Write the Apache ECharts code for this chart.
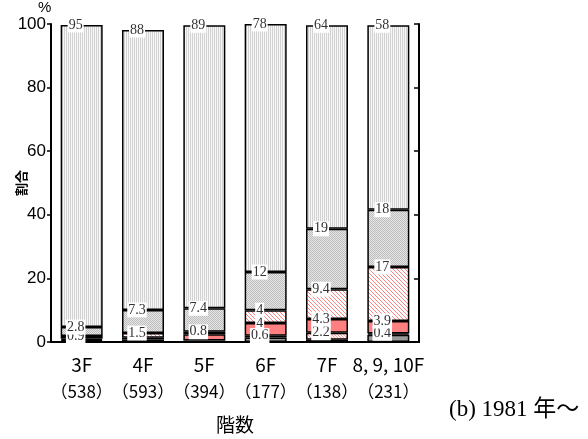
<!DOCTYPE html>
<html>
<head>
<meta charset="UTF-8">
<title>階数別 割合</title>
<script src="https://cdn.jsdelivr.net/npm/echarts@6/dist/echarts.min.js"></script>
<style>
html, body { margin: 0; padding: 0; background: #fff; }
#main { width: 588px; height: 439px; }
</style>
</head>
<body>
<div id="main"></div>
<script>
// 階数と棟数
var floors = ['3F', '4F', '5F', '6F', '7F', '8, 9, 10F'];
var counts = [538, 593, 394, 177, 138, 231];

// 積み上げ（下から順）
var s1 = [0.3, 0, 0, 1.4, 0, 2.3];
var s2 = [0.3, 0.8, 0.5, 0.6, 0.7, 0.4];
var s3 = [0, 0, 0, 0, 2.2, 0];
var s4 = [0.4, 0.5, 1.9, 4, 4.3, 3.9];
var s5 = [0.9, 1.5, 0.8, 4, 9.4, 17];
var s6 = [2.8, 7.3, 7.4, 12, 19, 18];
var s7 = [95, 88, 89, 78, 64, 58];

// 図中に書かれている数値（'' は表示なし）
var l1 = ['', '', '', '', '', ''];
var l2 = ['', '', '', '0.6', '', '0.4'];
var l3 = ['', '', '', '', '2.2', ''];
var l4 = ['', '', '', '4', '4.3', '3.9'];
var l5 = ['0.9', '1.5', '0.8', '4', '9.4', '17'];
var l6 = ['2.8', '7.3', '7.4', '12', '19', '18'];
var l7 = ['95', '88', '89', '78', '64', '58'];

function pattern(w, h, bg, fg, pts) {
	var c = document.createElement('canvas');
	c.width = w; c.height = h;
	var g = c.getContext('2d');
	g.fillStyle = bg;
	g.fillRect(0, 0, w, h);
	g.fillStyle = fg;
	pts.forEach(function(p) { g.fillRect(p[0], p[1], 1, 1); });
	return { image: c, repeat: 'repeat' };
}

var fills = [
	'#9a9a9a',
	'#000000',
	pattern(3, 3, '#fff4f4', '#ff9c9c', [[0, 0], [1, 1], [2, 2]]),
	'#ff8080',
	pattern(4, 4, '#ffffff', '#ff8080', [[0, 0], [1, 1], [2, 2], [3, 3]]),
	pattern(2, 2, '#e6e6e6', '#bdbdbd', [[0, 0], [1, 1]]),
	pattern(2, 1, '#f7f7f7', '#d2d2d2', [[0, 0]])
];
var values = [s1, s2, s3, s4, s5, s6, s7];
var labels = [l1, l2, l3, l4, l5, l6, l7];

var series = values.map(function(arr, k) {
	return {
		type: 'bar',
		stack: 'total',
		barWidth: 42,
		xAxisIndex: 0,
		yAxisIndex: 0,
		itemStyle: { color: fills[k], borderColor: '#000', borderWidth: 1.5 },
		label: {
			position: [15, 0],
			align: 'center',
			verticalAlign: 'middle',
			fontFamily: 'Liberation Serif',
			fontSize: 14,
			color: '#333',
			backgroundColor: '#fff',
			padding: [1, 1, 0, 1],
			formatter: function(p) { return labels[k][p.dataIndex]; }
		},
		data: arr.map(function(v, i) {
			return { value: v === 0 ? null : v, label: { show: labels[k][i] !== '' } };
		})
	};
});

var chart = echarts.init(document.getElementById('main'));
chart.setOption({
	animation: false,
	grid: { left: 51, right: 169, top: 24, bottom: 97, outerBoundsMode: 'none' },
	xAxis: [{
		type: 'category',
		data: floors,
		position: 'bottom',
		axisLine: { lineStyle: { color: '#000', width: 2 } },
		axisTick: { inside: true, length: 5, lineStyle: { color: '#000', width: 1.5 } },
		axisLabel: {
			margin: 10,
			interval: 0,
			formatter: function(v, i) { return '{a|' + v + '}\n{b|（' + counts[i] + '）}'; },
			rich: {
				a: { fontFamily: 'Noto Sans CJK JP', fontSize: 19, lineHeight: 26, color: '#000' },
				b: { fontFamily: 'Noto Sans CJK JP', fontSize: 17, lineHeight: 28, color: '#000' }
			}
		},
		name: '階数',
		nameLocation: 'middle',
		nameGap: 73,
		nameTextStyle: { fontFamily: 'Noto Sans CJK JP', fontSize: 19, color: '#000' }
	}, {
		type: 'category',
		data: floors,
		position: 'top',
		axisLine: { lineStyle: { color: '#000', width: 2 } },
		axisTick: { inside: true, length: 5, lineStyle: { color: '#000', width: 1.5 } },
		axisLabel: { show: false }
	}],
	yAxis: [{
		type: 'value',
		min: 0,
		max: 100,
		interval: 20,
		position: 'left',
		axisLine: { show: true, lineStyle: { color: '#000', width: 2 } },
		axisTick: { show: true, length: 4, lineStyle: { color: '#000', width: 1.5 } },
		splitLine: { show: false },
		axisLabel: { margin: 5, fontFamily: 'Liberation Sans', fontSize: 17, color: '#000' },
		name: '割合',
		nameLocation: 'middle',
		nameRotate: 90,
		nameGap: 23,
		nameMoveOverlap: false,
		nameTextStyle: { fontFamily: 'Noto Sans CJK JP', fontSize: 13, fontWeight: 'bold', color: '#000' }
	}, {
		type: 'value',
		min: 0,
		max: 100,
		interval: 20,
		position: 'right',
		axisLine: { show: true, lineStyle: { color: '#000', width: 2 } },
		axisTick: { show: true, inside: true, length: 5, lineStyle: { color: '#000', width: 1.5 } },
		splitLine: { show: false },
		axisLabel: { show: false }
	}],
	graphic: [{
		type: 'text',
		left: 38,
		top: 0,
		style: { text: '%', font: '15px "Liberation Sans"', fill: '#000' }
	}, {
		type: 'text',
		left: 449,
		top: 398,
		style: { text: '(b) 1981 年〜', font: '23px "Liberation Serif", "Noto Sans CJK JP"', fill: '#000' }
	}],
	series: series
});
</script>
</body>
</html>
